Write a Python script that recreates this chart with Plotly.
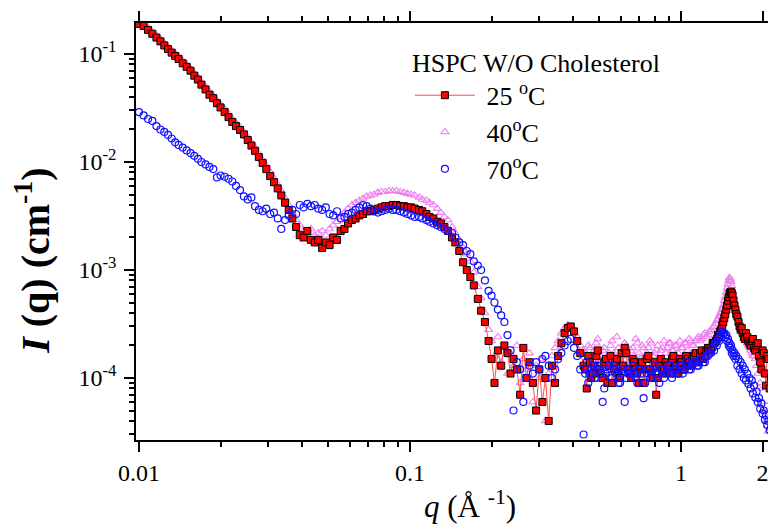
import plotly.graph_objects as go

# ---------------- data ----------------
q_low = [0.0100, 0.0104, 0.0108, 0.0112, 0.0116, 0.0120, 0.0124, 0.0128, 0.0132, 0.0136,
         0.0140, 0.0145, 0.0150, 0.0155, 0.0160, 0.0165, 0.0170, 0.0176, 0.0182, 0.0188,
         0.0194, 0.0200, 0.0207, 0.0214, 0.0221, 0.0228, 0.0236, 0.0244, 0.0252, 0.0260,
         0.0268, 0.0277, 0.0286, 0.0295, 0.0305, 0.0315, 0.0325, 0.0335, 0.0346, 0.0357,
         0.0368, 0.0380]
q_mid = [0.0392, 0.0405, 0.0418, 0.0431, 0.0445, 0.0459, 0.0474, 0.0489, 0.0505, 0.0521,
         0.0538, 0.0555, 0.0573, 0.0591, 0.0610, 0.0630, 0.0650, 0.0671, 0.0692, 0.0714,
         0.0737, 0.0761, 0.0785, 0.0810, 0.0836, 0.0863, 0.0891, 0.0919, 0.0949, 0.0979,
         0.101, 0.104, 0.108, 0.111, 0.115, 0.118, 0.122, 0.126, 0.130, 0.134,
         0.138, 0.143, 0.147, 0.152, 0.157, 0.162, 0.167, 0.172, 0.178, 0.183,
         0.189, 0.195]
q_high = [0.200, 0.205, 0.211, 0.217, 0.223, 0.229, 0.235, 0.241, 0.248, 0.255,
          0.262, 0.269, 0.276, 0.284, 0.292, 0.300, 0.308, 0.316, 0.325, 0.334,
          0.343, 0.352, 0.362, 0.372, 0.382, 0.392, 0.403, 0.414, 0.425, 0.437,
          0.449, 0.461, 0.474, 0.487, 0.500, 0.514, 0.528, 0.542, 0.557, 0.572,
          0.588, 0.604, 0.620, 0.637, 0.654, 0.672, 0.690, 0.709, 0.728, 0.748,
          0.768, 0.789, 0.810, 0.832, 0.855, 0.878, 0.902, 0.926, 0.951, 0.977,
          1.003, 1.030, 1.058, 1.087, 1.116, 1.146, 1.177, 1.209, 1.241, 1.274,
          1.308, 1.342, 1.370, 1.395, 1.420, 1.445, 1.470, 1.490, 1.510, 1.530,
          1.550, 1.575, 1.600, 1.630, 1.660, 1.690, 1.720, 1.755, 1.790, 1.825,
          1.860, 1.900, 1.940, 1.980, 2.020, 2.060, 2.100, 2.150, 2.200, 2.240]
q_extra = [0.443, 0.455, 0.467, 0.480, 0.493, 0.507, 0.521, 0.535, 0.550, 0.565,
           0.580, 0.596, 0.612, 0.628, 0.645, 0.663, 0.681, 0.699, 0.718, 0.738,
           0.758, 0.778, 0.799, 0.821, 0.843, 0.866, 0.890, 0.914, 0.938, 0.964,
           0.990, 1.016, 1.044, 1.072, 1.101, 1.131, 1.161, 1.193, 1.225, 1.257,
           1.291, 1.325, 1.356, 1.382, 1.407, 1.432, 1.457, 1.480, 1.500, 1.520,
           1.540, 1.562, 1.588, 1.615, 1.645, 1.675, 1.705, 1.737, 1.772, 1.807,
           1.842, 1.880, 1.920, 1.960, 2.000, 2.040, 2.080, 2.125, 2.175, 2.220]

# 25 C
i25_low = [0.190, 0.182, 0.167, 0.154, 0.142, 0.131, 0.120, 0.111, 0.103, 0.096,
           0.090, 0.082, 0.076, 0.070, 0.063, 0.058, 0.052, 0.047, 0.042, 0.039,
           0.035, 0.032, 0.029, 0.026, 0.0235, 0.0215, 0.0198, 0.0180, 0.0160, 0.0142,
           0.0127, 0.0111, 0.0098, 0.0086, 0.0074, 0.0065, 0.0057, 0.0049, 0.0042, 0.0036,
           0.0030, 0.0025]
i25_mid = [0.0021, 0.0020, 0.0023, 0.0019, 0.0018, 0.0019, 0.0016, 0.0018, 0.0017, 0.0020,
           0.0019, 0.0023, 0.0024, 0.0027, 0.0029, 0.0030, 0.0032, 0.0033, 0.0035, 0.0035,
           0.0036, 0.0037, 0.0038, 0.0039, 0.0039, 0.0040, 0.0040, 0.0039, 0.0039, 0.0038,
           0.0038, 0.0037, 0.0036, 0.0035, 0.0033, 0.0031, 0.0030, 0.0028, 0.0027, 0.0025,
           0.0023, 0.0020, 0.0018, 0.0015, 0.00118, 0.00100, 0.00086, 0.00072, 0.00054, 0.00042,
           0.00033, 0.00022]
i25_high = [0.00015, 0.00009, 0.00018, 0.00013, 0.00020, 0.00017, 0.00011, 0.00015, 0.00012, 0.00007,
            0.00019, 0.00010, 0.00014, 0.00009, 0.00005, 0.00012, 0.00006, 0.00010, 0.00004, 0.00013,
            0.00009, 0.00016, 0.00021, 0.00026, 0.00029, 0.00030, 0.00027, 0.00022, 0.00017, 0.00013,
            0.00008, 0.00014, 0.00011, 0.00016, 0.00012, 0.00010, 0.00015, 0.00013, 0.00009, 0.00014,
            0.00011, 0.00017, 0.00019, 0.00012, 0.00010, 0.00014, 0.00011, 0.00013, 0.00009, 0.00015,
            0.00012, 0.00010, 0.00007, 0.00013, 0.00011, 0.00014, 0.00012, 0.00015, 0.00013, 0.00011,
            0.00014, 0.00012, 0.00015, 0.00013, 0.00016, 0.00014, 0.00017, 0.00015, 0.00018, 0.00019,
            0.00021, 0.00022, 0.00025, 0.00027, 0.00031, 0.00036, 0.00043, 0.00052, 0.00060, 0.00063,
            0.00058, 0.00047, 0.00039, 0.00033, 0.00028, 0.00026, 0.00023, 0.00024, 0.00021, 0.00022,
            0.00019, 0.00020, 0.00016, 0.00012, 0.00017, 0.000085, 0.00015, 0.00010, 0.00014, 0.00009]
i25_extra = [0.00012, 0.00016, 0.00010, 0.00013, 0.00018, 0.00011, 0.00014, 0.00009, 0.00016, 0.00012,
             0.00015, 0.00010, 0.00013, 0.00017, 0.00011, 0.00015, 0.00012, 0.00009, 0.00014, 0.00012,
             0.00016, 0.00011, 0.00014, 0.00010, 0.00015, 0.00012, 0.00013, 0.00011, 0.00016, 0.00013,
             0.00015, 0.00012, 0.00016, 0.00014, 0.00015, 0.00017, 0.00014, 0.00018, 0.00016, 0.00019,
             0.00018, 0.00021, 0.00023, 0.00024, 0.00028, 0.00033, 0.00039, 0.00047, 0.00056, 0.00062,
             0.00061, 0.00052, 0.00043, 0.00037, 0.00030, 0.00029, 0.00024, 0.00026, 0.00022, 0.00020,
             0.00023, 0.00018, 0.00021, 0.00014, 0.00018, 0.00011, 0.00016, 0.00008, 0.00013, 0.00016]

# 40 C
i40_low = [0.197, 0.188, 0.174, 0.161, 0.149, 0.137, 0.126, 0.117, 0.108, 0.101,
           0.095, 0.087, 0.080, 0.073, 0.067, 0.061, 0.055, 0.050, 0.045, 0.041,
           0.037, 0.034, 0.031, 0.028, 0.025, 0.023, 0.021, 0.019, 0.017, 0.0152,
           0.0136, 0.0119, 0.0105, 0.0093, 0.0081, 0.0071, 0.0062, 0.0054, 0.0046, 0.0040,
           0.0034, 0.0029]
i40_mid = [0.0026, 0.0023, 0.0022, 0.0024, 0.0021, 0.0022, 0.0023, 0.0021, 0.0024, 0.0026,
           0.0028, 0.0031, 0.0034, 0.0037, 0.0040, 0.0042, 0.0044, 0.0046, 0.0048, 0.0049,
           0.0050, 0.0052, 0.0053, 0.0053, 0.0054, 0.0054, 0.0054, 0.0053, 0.0052, 0.0051,
           0.0050, 0.0049, 0.0047, 0.0045, 0.0044, 0.0042, 0.0040, 0.0037, 0.0034, 0.0031,
           0.0029, 0.0025, 0.0022, 0.0019, 0.0016, 0.0014, 0.0012, 0.00095, 0.00070, 0.00055,
           0.00040, 0.00028]
i40_high = [0.00022, 0.00016, 0.00024, 0.00014, 0.00019, 0.00011, 0.00017, 0.00013, 0.00020, 0.00009,
            0.00015, 0.00012, 0.00017, 0.00006, 0.00013, 0.00010, 0.00015, 0.00004, 0.00011, 0.00016,
            0.00019, 0.00022, 0.00026, 0.00029, 0.00031, 0.00030, 0.00028, 0.00024, 0.00020, 0.00018,
            0.00015, 0.00019, 0.00016, 0.00021, 0.00015, 0.00018, 0.00014, 0.00017, 0.00022, 0.00015,
            0.00019, 0.00016, 0.00021, 0.00014, 0.00018, 0.00016, 0.00021, 0.00015, 0.00019, 0.00017,
            0.00022, 0.00016, 0.00018, 0.00015, 0.00019, 0.00017, 0.00021, 0.00018, 0.00020, 0.00017,
            0.00019, 0.00021, 0.00018, 0.00022, 0.00020, 0.00023, 0.00022, 0.00025, 0.00024, 0.00027,
            0.00029, 0.00032, 0.00035, 0.00039, 0.00044, 0.00052, 0.00062, 0.00074, 0.00085, 0.00078,
            0.00064, 0.00050, 0.00041, 0.00035, 0.00030, 0.00026, 0.00023, 0.00021, 0.00019, 0.00017,
            0.00016, 0.00013, 0.00008, 0.00015, 0.00005, 0.00004, 0.000032, 0.00006, 0.00003, 0.000028]
i40_extra = [0.00017, 0.00020, 0.00014, 0.00018, 0.00023, 0.00016, 0.00019, 0.00015, 0.00020, 0.00017,
             0.00024, 0.00015, 0.00018, 0.00020, 0.00016, 0.00019, 0.00023, 0.00017, 0.00020, 0.00016,
             0.00019, 0.00021, 0.00017, 0.00020, 0.00018, 0.00022, 0.00019, 0.00021, 0.00018, 0.00020,
             0.00022, 0.00019, 0.00021, 0.00023, 0.00020, 0.00022, 0.00024, 0.00023, 0.00026, 0.00025,
             0.00028, 0.00030, 0.00034, 0.00037, 0.00041, 0.00047, 0.00056, 0.00068, 0.00080, 0.00082,
             0.00071, 0.00057, 0.00045, 0.00038, 0.00032, 0.00028, 0.00025, 0.00022, 0.00020, 0.00018,
             0.00016, 0.00015, 0.00011, 0.00009, 0.00006, 0.000045, 0.000036, 0.000034, 0.000030, 0.000029]

# 70 C
i70_low = [0.029, 0.027, 0.025, 0.024, 0.0215, 0.020, 0.019, 0.0178, 0.0165, 0.0152,
           0.0144, 0.0136, 0.0128, 0.0121, 0.0114, 0.0107, 0.0100, 0.0095, 0.0090, 0.0086,
           0.0072, 0.0075, 0.0073, 0.0070, 0.0066, 0.0060, 0.0055, 0.0048, 0.0045, 0.0047,
           0.0039, 0.0036, 0.0035, 0.0037, 0.0033, 0.0034, 0.0030, 0.0024, 0.0029, 0.0032,
           0.0036, 0.0033]
i70_mid = [0.0040, 0.0038, 0.0041, 0.0039, 0.0040, 0.0037, 0.0036, 0.0038, 0.0033, 0.0032,
           0.0035, 0.0030, 0.0031, 0.0033, 0.0034, 0.0036, 0.0038, 0.0040, 0.0039, 0.0037,
           0.0035, 0.0034, 0.0035, 0.0036, 0.0037, 0.0036, 0.0036, 0.0035, 0.0034, 0.0033,
           0.0032, 0.0031, 0.0031, 0.0030, 0.0029, 0.0028, 0.0027, 0.0026, 0.0025, 0.0024,
           0.0023, 0.0022, 0.0020, 0.0018, 0.0017, 0.0015, 0.0014, 0.0012, 0.0011, 0.0010,
           0.00080, 0.00064]
i70_high = [0.00058, 0.00050, 0.00043, 0.00038, 0.00033, 0.00025, 0.00018, 0.00005, 0.00014, 0.00012,
            0.00006, 0.00010, 0.00013, 0.00011, 0.00014, 0.00012, 0.00015, 0.00016, 0.00013, 0.00010,
            0.00012, 0.00015, 0.00017, 0.00020, 0.00022, 0.00023, 0.00019, 0.00016, 0.00012, 0.00003,
            0.00014, 0.00011, 0.00013, 0.00010, 0.00012, 0.00006, 0.00011, 0.00013, 0.00010, 0.00012,
            0.00009, 0.00011, 0.00006, 0.00012, 0.00010, 0.00011, 0.00009, 0.00012, 0.000065, 0.00011,
            0.00010, 0.00012, 0.00011, 0.00009, 0.00012, 0.00011, 0.00013, 0.00010, 0.00012, 0.00011,
            0.00013, 0.00012, 0.00013, 0.00012, 0.00014, 0.00013, 0.00015, 0.00014, 0.00016, 0.00017,
            0.00019, 0.00021, 0.00023, 0.00025, 0.00027, 0.00026, 0.00025, 0.00023, 0.00021, 0.00020,
            0.00018, 0.00017, 0.00016, 0.00015, 0.00014, 0.00013, 0.00012, 0.00011, 0.00010, 0.000095,
            0.000085, 0.000075, 0.000065, 0.000058, 0.000050, 0.000045, 0.000040, 0.000035, 0.000031, 0.000028]
i70_extra = [0.00011, 0.00009, 0.00012, 0.00010, 0.00013, 0.00011, 0.00008, 0.00012, 0.00010, 0.00013,
             0.00011, 0.00009, 0.00012, 0.00010, 0.00011, 0.00013, 0.00010, 0.00012, 0.00011, 0.00009,
             0.00012, 0.00010, 0.00013, 0.00011, 0.00012, 0.00010, 0.00012, 0.00013, 0.00011, 0.00012,
             0.00013, 0.00011, 0.00014, 0.00012, 0.00013, 0.00014, 0.00013, 0.00015, 0.00014, 0.00016,
             0.00017, 0.00018, 0.00020, 0.00022, 0.00024, 0.00026, 0.00024, 0.00022, 0.00020, 0.00019,
             0.00017, 0.00016, 0.00015, 0.00013, 0.00012, 0.00011, 0.00010, 0.000095, 0.000088, 0.000080,
             0.000072, 0.000066, 0.000060, 0.000052, 0.000047, 0.000041, 0.000037, 0.000033, 0.000030, 0.000027]

x_tick_vals = [0.01, 0.1, 1, 2]
x_tick_text = ["0.01", "0.1", "1", "2"]
y_tick_vals = [1e-4, 1e-3, 1e-2, 1e-1]
y_tick_text = ["10<sup>-4</sup>", "10<sup>-3</sup>", "10<sup>-2</sup>", "10<sup>-1</sup>"]

legend_title = "HSPC W/O Cholesterol"
names = ["&nbsp;25 <sup>o</sup>C", "&nbsp;40<sup>o</sup>C", "&nbsp;70<sup>o</sup>C"]


# ---------------- figure ----------------
def merged(i_low, i_mid, i_high, i_extra):
    pts = sorted(zip(q_low + q_mid + q_high + q_extra, i_low + i_mid + i_high + i_extra))
    return [p[0] for p in pts], [p[1] for p in pts]


q25, i25 = merged(i25_low, i25_mid, i25_high, i25_extra)
q40, i40 = merged(i40_low, i40_mid, i40_high, i40_extra)
q70, i70 = merged(i70_low, i70_mid, i70_high, i70_extra)

FONT = "Liberation Serif"
fig = go.Figure()

fig.add_trace(go.Scatter(
    x=q40, y=i40, mode="markers", name=names[1], legendrank=2,
    marker=dict(symbol="triangle-up-open", size=7, color="#EE7FEE", line=dict(width=1.1, color="#EE7FEE")),
))
fig.add_trace(go.Scatter(
    x=q25, y=i25, mode="lines+markers", name=names[0], legendrank=1,
    line=dict(color="#FF4A4A", width=1),
    marker=dict(symbol="square", size=7, color="#FF0000", line=dict(width=1, color="#000000")),
))
fig.add_trace(go.Scatter(
    x=q70, y=i70, mode="markers", name=names[2], legendrank=3,
    marker=dict(symbol="circle-open", size=7, color="#1010FF", line=dict(width=1.2, color="#1010FF")),
))

x_minor = [k * 10 ** d for d in (-2, -1, 0) for k in range(2, 10)]
x_minor = [v for v in x_minor if v != 2]
y_minor = [k * 10 ** d for d in (-5, -4, -3, -2, -1) for k in range(2, 10)]

fig.update_xaxes(
    type="log", range=[-2.011, 0.3506], automargin=False,
    tickmode="array", tickvals=x_tick_vals, ticktext=x_tick_text,
    ticks="outside", ticklen=10, tickwidth=1.5, tickcolor="black",
    showline=True, linewidth=1.5, linecolor="black", mirror="allticks",
    showgrid=False, zeroline=False,
    tickfont=dict(family=FONT, size=24, color="black"),
    minor=dict(tickmode="array", tickvals=x_minor, ticks="outside", ticklen=5,
               tickwidth=1.5, tickcolor="black", showgrid=False),
)
fig.update_yaxes(
    type="log", range=[-4.574, -0.713], automargin=False,
    tickmode="array", tickvals=y_tick_vals, ticktext=y_tick_text,
    ticks="outside", ticklen=10, tickwidth=1.5, tickcolor="black",
    showline=True, linewidth=1.5, linecolor="black",
    showgrid=False, zeroline=False,
    tickfont=dict(family=FONT, size=24, color="black"),
    ticklabelstandoff=3,
    minor=dict(tickmode="array", tickvals=y_minor, ticks="outside", ticklen=5,
               tickwidth=1.5, tickcolor="black", showgrid=False),
)

# the page body adds an 8px offset, so the figure is 8px smaller with 8px less left/top margin
fig.update_layout(
    width=768, height=523,
    margin=dict(l=128, r=0, t=15, b=91),
    paper_bgcolor="white", plot_bgcolor="white",
    font=dict(family=FONT, color="black"),
    legend=dict(
        x=0.428, y=0.964, xanchor="left", yanchor="top",
        bgcolor="rgba(0,0,0,0)", borderwidth=0,
        title=dict(text=legend_title, font=dict(family=FONT, size=26, color="black")),
        font=dict(family=FONT, size=26, color="black"),
        itemwidth=60,
    ),
    annotations=[
        dict(text="<b><i>I</i> (q) (cm<sup>-1</sup>)</b>", textangle=-90,
             xref="paper", yref="paper", x=-0.161, y=0.432,
             xanchor="center", yanchor="middle", showarrow=False,
             font=dict(family=FONT, size=40, color="black")),
        dict(text="<i>q</i> (Å <sup>-1</sup>)",
             xref="paper", yref="paper", x=0.522, y=-0.155,
             xanchor="center", yanchor="middle", showarrow=False,
             font=dict(family=FONT, size=31, color="black")),
    ],
)

fig.write_html("out.html")
